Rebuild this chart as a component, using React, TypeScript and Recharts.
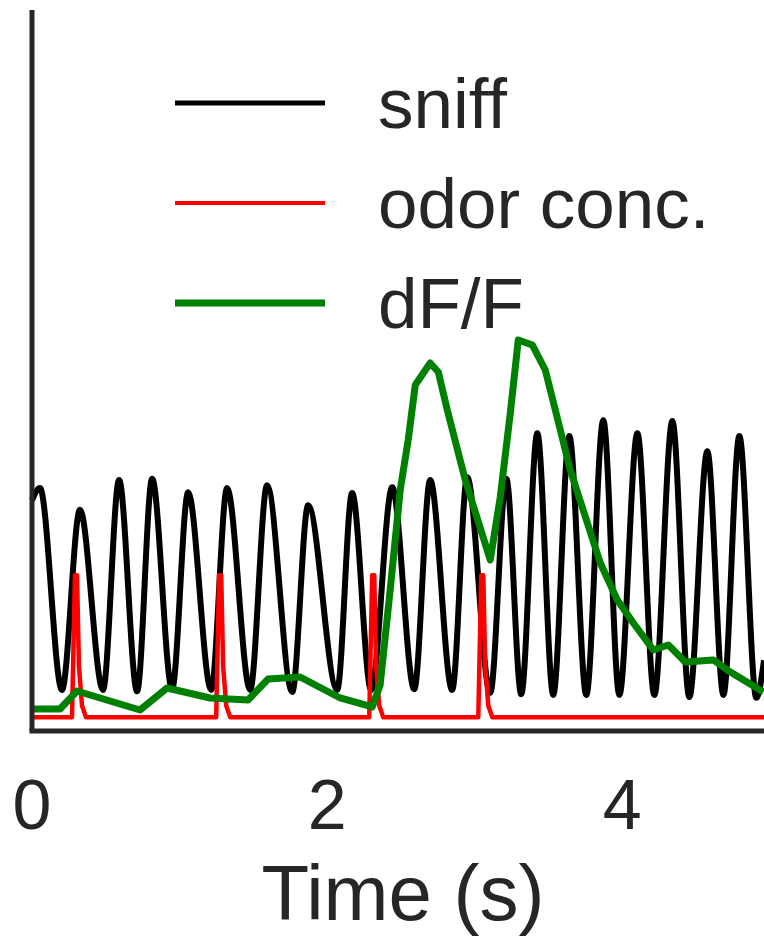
import { LineChart, Line, XAxis, YAxis, Legend } from 'recharts';

// time in seconds, values in arbitrary units (0-100 across the plot height)
const sniffTimes = [
  0, 0.054, 0.203, 0.325, 0.481, 0.59, 0.712, 0.814, 0.949, 1.058, 1.214, 1.322,
  1.478, 1.593, 1.763, 1.871, 2.068, 2.169, 2.298, 2.441, 2.59, 2.698, 2.847,
  2.949, 3.105, 3.214, 3.315, 3.424, 3.532, 3.641, 3.756, 3.871, 3.98, 4.102,
  4.217, 4.339, 4.454, 4.576, 4.685, 4.793, 4.908, 4.96,
];
const sniffValues = [
  32.0, 33.7, 5.7, 30.7, 5.7, 34.8, 5.5, 35.0, 5.8, 33.1, 5.7, 33.7,
  5.7, 34.1, 5.4, 31.3, 5.7, 33.0, 5.7, 33.8, 5.8, 34.8, 5.7,
  35.2, 5.3, 35.0, 5.1, 41.3, 5.0, 40.9, 5.0, 43.1, 5.0, 41.3,
  5.0, 43.0, 4.7, 38.8, 5.0, 40.9, 4.6, 9.8,
];

const odorTimes = [
  0,
  0.271, 0.291, 0.305, 0.318, 0.339, 0.366,
  1.248, 1.268, 1.282, 1.295, 1.316, 1.343,
  2.285, 2.305, 2.319, 2.332, 2.353, 2.38,
  3.024, 3.044, 3.058, 3.071, 3.092, 3.119,
  4.96,
];
const odorValues = [
  1.9,
  1.9, 21.6, 21.6, 9.0, 3.5, 1.9,
  1.9, 21.6, 21.6, 9.0, 3.5, 1.9,
  1.9, 21.6, 21.6, 9.0, 3.5, 1.9,
  1.9, 21.6, 21.6, 9.0, 3.5, 1.9,
  1.9,
];

const dffTimes = [
  0, 0.19, 0.305, 0.461, 0.732, 0.915, 1.207, 1.464, 1.6, 1.817, 2.088, 2.305,
  2.359, 2.427, 2.495, 2.549, 2.597, 2.698, 2.753, 2.814, 2.936, 3.105, 3.173,
  3.241, 3.295, 3.39, 3.478, 3.58, 3.647, 3.851, 3.966, 4.075, 4.21, 4.312,
  4.427, 4.617, 4.732, 4.956,
];
const dffValues = [
  3.05, 3.05, 5.55, 4.58, 2.91, 5.96, 4.58, 4.3, 7.21, 7.49, 4.58, 3.33,
  6.38, 19.56, 33.43, 40.36, 47.99, 51.04, 49.79, 44.52, 34.81, 23.72, 32.45,
  44.11, 54.23, 53.54, 50.07, 41.75, 36.2, 23.3, 18.17, 14.98, 11.23, 11.93,
  9.57, 9.85, 8.18, 5.41,
];

const xTicks = [0, 2, 4];
const seriesNames = ['sniff', 'odor conc.', 'dF/F'];

const sniffData = sniffTimes.map((t, i) => ({ t, v: sniffValues[i] }));
const odorData = odorTimes.map((t, i) => ({ t, v: odorValues[i] }));
const dffData = dffTimes.map((t, i) => ({ t, v: dffValues[i] }));

const FONT = '"Liberation Sans", Arial, sans-serif';
const INK = '#262626';
const legendWidths = [5, 4, 7];

function renderLegend(props: any) {
  // keep the series order, recharts may hand the payload over reversed
  const items = [...(props.payload || [])].sort(
    (a: any, b: any) => seriesNames.indexOf(a.value) - seriesNames.indexOf(b.value)
  );
  return (
    <svg width={764} height={360}>
      {items.map((item: any, i: number) => {
        const y = 103 + i * 100;
        return (
          <g key={item.value}>
            <line x1={175} x2={325} y1={y} y2={y} stroke={item.color} strokeWidth={legendWidths[i]} />
            <text x={378} y={y + 25} fontSize={71} fill={INK} fontFamily={FONT}>
              {item.value}
            </text>
          </g>
        );
      })}
    </svg>
  );
}

export default function App() {
  return (
    <div style={{ position: 'absolute', left: 0, top: 0, width: 764, height: 937, background: '#fff' }}>
      <LineChart width={764} height={937} margin={{ top: 10, right: 0, left: 31, bottom: 0 }}>
        <XAxis
          type="number"
          dataKey="t"
          domain={[0, 4.96]}
          ticks={xTicks}
          tickLine={false}
          tickSize={0}
          tickMargin={48}
          height={206}
          axisLine={{ stroke: INK, strokeWidth: 5, strokeLinecap: 'square' }}
          tick={{ fontSize: 70, fill: INK, fontFamily: FONT }}
          label={{ value: 'Time (s)', position: 'insideBottom', offset: 17, dx: 5, fontSize: 78, fill: INK, fontFamily: FONT }}
        />
        <YAxis
          type="number"
          domain={[0, 100]}
          width={1}
          tick={false}
          tickLine={false}
          axisLine={{ stroke: INK, strokeWidth: 5 }}
        />
        <Legend
          content={renderLegend}
          layout="horizontal"
          verticalAlign="middle"
          align="center"
          wrapperStyle={{ left: 0, top: 0, width: 764, height: 360 }}
        />
        <Line
          data={sniffData}
          dataKey="v"
          name={seriesNames[0]}
          type="monotone"
          stroke="#000000"
          strokeWidth={6}
          dot={false}
          isAnimationActive={false}
        />
        <Line
          data={odorData}
          dataKey="v"
          name={seriesNames[1]}
          type="linear"
          stroke="#ff0000"
          strokeWidth={4.5}
          strokeLinejoin="round"
          dot={false}
          isAnimationActive={false}
        />
        <Line
          data={dffData}
          dataKey="v"
          name={seriesNames[2]}
          type="linear"
          stroke="#008000"
          strokeWidth={7}
          strokeLinejoin="round"
          dot={false}
          isAnimationActive={false}
        />
      </LineChart>
    </div>
  );
}
